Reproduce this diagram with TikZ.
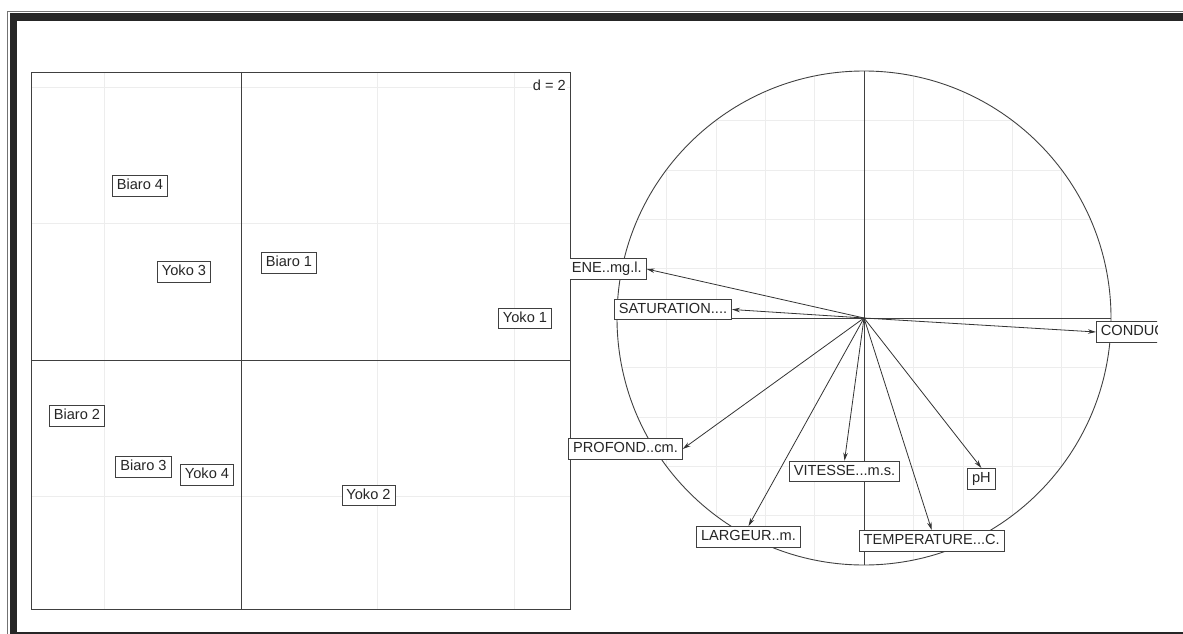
\documentclass[tikz,border=0pt]{standalone}
\usepackage{fontspec}
\setmainfont{Liberation Sans}
\usetikzlibrary{arrows.meta}
\begin{document}
\begin{tikzpicture}[x=1pt, y=-1pt,
		lab/.style={draw=black!75, fill=white, line width=0.8pt, text=black!85,
			font=\fontsize{14.6}{16}\selectfont, inner xsep=4.5pt, inner ysep=3.5pt,
			text height=10.5pt, text depth=3pt},
		faint/.style={black!7, line width=0.6pt},
		axis/.style={black!75, line width=0.9pt},
		vec/.style={-{Stealth[length=8pt, width=4.5pt]}, black!80, line width=0.8pt}]
	\useasboundingbox (0,0) rectangle (1183,634);
	% outer frame
	\draw[black!55, line width=0.8pt] (7,11.8) rectangle (1200,645);
	\draw[black!85, line width=7.5pt] (13.3,17.2) rectangle (1200,635.5);
	
	% left panel: rows
	\begin{scope}
		\clip (31,72) rectangle (570,609);
		\foreach \gx in {104.5, 377.5, 514}
			\draw[faint] (\gx,72) -- (\gx,609);
		\foreach \gy in {87, 223.5, 496.5}
			\draw[faint] (31,\gy) -- (570,\gy);
	\end{scope}
	\draw[axis] (241,72) -- (241,609);
	\draw[axis] (31,360) -- (570,360);
	\draw[axis] (31,72) rectangle (570,609);
	\node[fill=white, text=black!85, font=\fontsize{14.6}{16}\selectfont, inner sep=1pt, anchor=east] (dscale) at (567,85) {d = 2};
	\foreach \nm/\px/\py/\txt in {b4/140/186/Biaro 4, y3/184/272/Yoko 3, b1/289/263/Biaro 1,
			y1/525/318.5/Yoko 1, b2/77/416/Biaro 2, b3/143.5/467/Biaro 3, y4/207/475/Yoko 4, y2/368.5/495.5/Yoko 2}
		\node[lab] (\nm) at (\px,\py) {\txt};
	
	% right panel: correlation circle
	\coordinate (o) at (864,318);
	\begin{scope}
		\clip (o) circle (247pt);
		\foreach \k in {-4,...,4} {
			\draw[faint] ({864+\k*49.4},71) -- ({864+\k*49.4},565);
			\draw[faint] (617,{318+\k*49.4}) -- (1111,{318+\k*49.4});
		}
	\end{scope}
	\draw[axis] (o) circle (247pt);
	\draw[axis] (864,71) -- (864,565);
	\draw[axis] (617,318) -- (1111,318);
	
	\begin{scope}
		\clip (570,0) rectangle (1157,634);
		\node[lab, anchor=east] (ene) at (646.6,269) {ENE..mg.l.};
		\node[lab, anchor=west] (cond) at (1096,332) {CONDUC};
	\end{scope}
	\node[lab, anchor=east] (sat) at (732,309.5) {SATURATION....};
	\node[lab, anchor=east] (prof) at (682.7,449) {PROFOND..cm.};
	\node[lab, anchor=north] (vit) at (844.5,460.7) {VITESSE...m.s.};
	\node[lab, anchor=north] (ph) at (981.4,468) {pH};
	\node[lab, anchor=north] (larg) at (748.5,526) {LARGEUR..m.};
	\node[lab, anchor=north] (temp) at (931.7,530) {TEMPERATURE...C.};
	
	\draw[vec] (o) -- (ene.east);
	\draw[vec] (o) -- (sat.east);
	\draw[vec] (o) -- (cond.west);
	\draw[vec] (o) -- (prof.east);
	\foreach \v in {vit, ph, larg, temp}
		\draw[vec] (o) -- (\v.north);
\end{tikzpicture}
\end{document}
